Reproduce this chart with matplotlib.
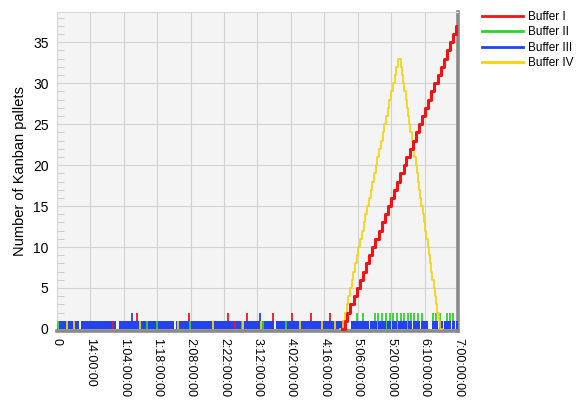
import matplotlib
matplotlib.use("Agg")
import matplotlib.pyplot as plt
from matplotlib.lines import Line2D
from matplotlib.ticker import MultipleLocator

plt.rcParams["font.family"] = ["Liberation Sans", "DejaVu Sans"]

# time axis in hours (0 .. 7 days), ticks every 14 h
tick_hours = [0, 14, 28, 42, 56, 70, 84, 98, 112, 126, 140, 154, 168]
tick_labels = ["0", "14:00:00", "1:04:00:00", "1:18:00:00", "2:08:00:00",
               "2:22:00:00", "3:12:00:00", "4:02:00:00", "4:16:00:00",
               "5:06:00:00", "5:20:00:00", "6:10:00:00", "7:00:00:00"]

# Buffer I (red): short peaks to 2 early on, then a steady build-up
red_peaks = [33.5, 55.3, 71.6, 79.6, 90.5, 98.5, 106.4, 114.4]
red_blips = [23.5, 74.6]
red_t = [119.5, 120.5, 121.6, 122.9, 124.3, 125.5, 126.9, 128.1, 129.6, 130.8,
         132.1, 133.4, 134.8, 136.0, 137.3, 138.7, 139.9, 141.2, 142.6, 143.8,
         145.2, 146.4, 147.8, 149.0, 150.3, 151.7, 152.9, 154.2, 155.6, 156.8,
         158.1, 159.5, 160.7, 162.0, 163.4, 164.6, 165.9, 167.2, 168.0]
red_v = [0, 1, 2, 3, 4, 5, 6, 7, 8, 9,
         10, 11, 12, 13, 14, 15, 16, 17, 18, 19,
         20, 21, 22, 23, 24, 25, 26, 27, 28, 29,
         30, 31, 32, 33, 34, 35, 36, 37, 37]

# Buffer II (green): short stays in the band, peaks to 2 late
green_blips = [0.5, 37.7, 41.9, 55.7, 77.5, 86.2, 96.0]
green_peaks = [125.7, 128.2, 133.2, 134.5, 136.2, 137.8, 139.5, 140.8, 142.5,
               144.1, 145.4, 147.1, 148.3, 149.6, 151.3, 152.9, 157.5, 158.8,
               160.5, 163.4, 164.7, 165.9]

# Buffer III (blue): toggles between 0 and 1 almost all the time
blue_spans = [(1.0, 9.4), (9.9, 24.6), (26.0, 49.2), (49.8, 91.0), (91.6, 120.5),
              (123.3, 125.5), (125.9, 128.0), (128.4, 130.9), (131.3, 133.9),
              (134.3, 138.0), (138.4, 140.1), (140.5, 142.3), (142.7, 146.5),
              (146.9, 148.6), (149.0, 152.0), (152.4, 155.4), (157.0, 159.6),
              (160.0, 161.7), (162.1, 165.1), (165.5, 166.8), (167.2, 168.0)]
blue_peaks = [31.4, 85.0]

# Buffer IV (yellow): rises to 33 and empties again
yellow_blips = [4.2, 7.1, 34.8, 50.7, 65.4, 77.9, 85.5, 101.8, 111.0, 116.5]
yellow_t = [118.5, 119.8, 120.5, 121.3, 122.0, 122.7, 123.4, 124.1, 124.9, 125.6,
            126.3, 127.0, 127.8, 128.5, 129.2, 129.9, 130.6, 131.4, 132.1, 132.8,
            133.5, 134.2, 135.0, 135.7, 136.4, 137.1, 137.9, 138.6, 139.3, 140.0,
            140.7, 141.5, 142.2, 142.9,
            144.0, 144.5, 145.0, 145.5, 146.1, 146.6, 147.1, 147.6, 148.1, 148.6,
            149.1, 149.6, 150.2, 150.7, 151.2, 151.7, 152.2, 152.7, 153.2, 153.7,
            154.3, 154.8, 155.3, 155.8, 156.3, 156.8, 157.3, 157.8, 158.4, 158.9,
            159.4, 159.9, 160.4, 161.5]
yellow_v = [0, 1, 2, 3, 4, 5, 6, 7, 8, 9,
            10, 11, 12, 13, 14, 15, 16, 17, 18, 19,
            20, 21, 22, 23, 24, 25, 26, 27, 28, 29,
            30, 31, 32, 33,
            32, 31, 30, 29, 28, 27, 26, 25, 24, 23,
            22, 21, 20, 19, 18, 17, 16, 15, 14, 13,
            12, 11, 10, 9, 8, 7, 6, 5, 4, 3,
            2, 1, 0, 0]

RED = "#f01414"
GREEN = "#2fd12f"
BLUE = "#2343f2"
YELLOW = "#f7d20a"

fig = plt.figure(figsize=(5.79, 4.03), dpi=100)
ax = fig.add_axes([0.0984, 0.1787, 0.6926, 0.7916])
ax.set_facecolor("#f4f4f4")

# peaks sit behind the band so only the part above 1 shows
ax.vlines(green_peaks, 0, 2, color=GREEN, lw=1.3, zorder=2)
ax.vlines(red_peaks, 0, 2, color=RED, lw=1.3, zorder=2)
ax.vlines(blue_peaks, 0, 2, color=BLUE, lw=1.3, zorder=2)

ax.broken_barh([(a, b - a) for a, b in blue_spans], (0, 1), facecolor=BLUE,
               edgecolor="none", zorder=3)
ax.vlines(green_blips, 0, 1, color=GREEN, lw=1.3, zorder=4)
ax.vlines(red_blips, 0, 1, color=RED, lw=1.3, zorder=4)
ax.vlines(yellow_blips, 0, 1, color=YELLOW, lw=1.3, zorder=4)

ax.step(yellow_t, yellow_v, where="post", color=YELLOW, lw=1.2, zorder=5)
ax.step(red_t, red_v, where="post", color=RED, lw=2.2, zorder=6)

ax.set_xlim(0, 168)
ax.set_ylim(-0.25, 38.7)
ax.set_xticks(tick_hours)
ax.set_xticklabels(tick_labels, rotation=270, fontsize=9)
ax.set_yticks(range(0, 36, 5))
ax.yaxis.set_minor_locator(MultipleLocator(1))
ax.tick_params(axis="x", length=0, pad=5)
ax.tick_params(axis="y", which="both", direction="in", color="#c8c8c8", labelsize=10)
ax.tick_params(axis="y", which="minor", length=5)
ax.tick_params(axis="y", which="major", length=0, pad=6)
ax.grid(True, color="#d2d2d2", lw=0.8, zorder=0)
ax.set_axisbelow(True)
ax.set_ylabel("Number of Kanban pallets", fontsize=10.5, labelpad=4)

for side in ("left", "top"):
    ax.spines[side].set_color("#d8d8d8")
    ax.spines[side].set_linewidth(0.8)
for side in ("right", "bottom"):
    ax.spines[side].set_color("#8a8a8a")
    ax.spines[side].set_linewidth(2.6)

handles = [Line2D([], [], color=c, lw=2) for c in (RED, GREEN, BLUE, YELLOW)]
fig.legend(handles, ["Buffer I", "Buffer II", "Buffer III", "Buffer IV"],
           loc="upper left", bbox_to_anchor=(0.825, 0.985), frameon=False,
           fontsize=8.5, handlelength=3.4, labelspacing=0.3, handletextpad=0.5,
           borderaxespad=0)

fig.savefig("out.png", dpi=100)
